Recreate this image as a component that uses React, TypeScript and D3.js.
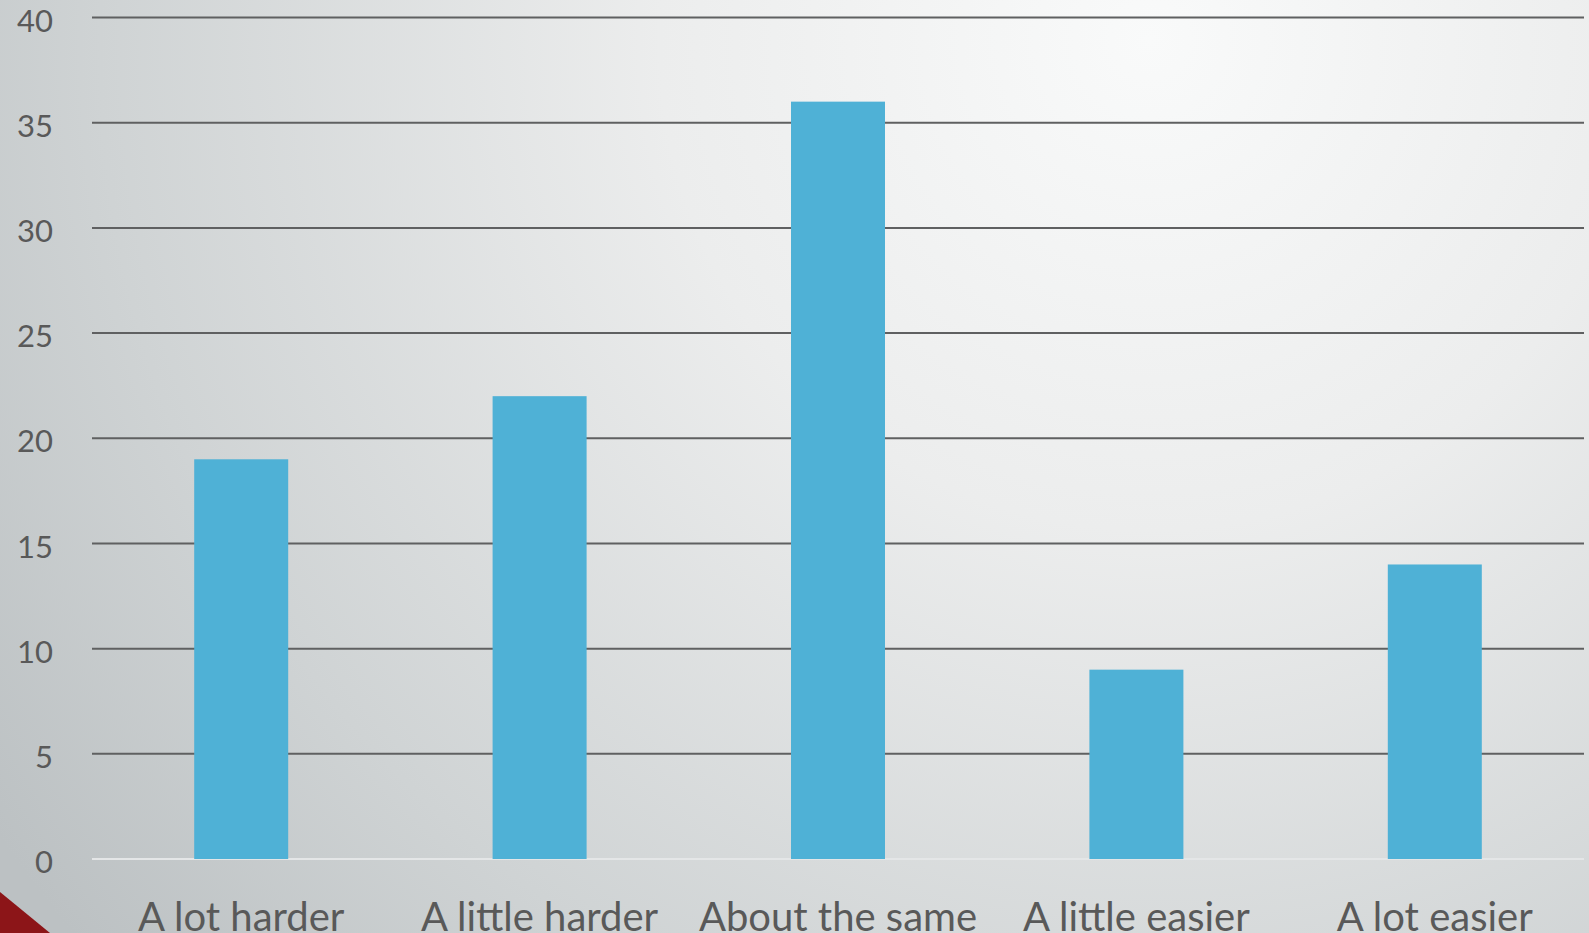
import React from "react";
import * as d3 from "d3";

const categories = ["A lot harder", "A little harder", "About the same", "A little easier", "A lot easier"];
const values = [19, 22, 36, 9, 14];
const yTicks = [0, 5, 10, 15, 20, 25, 30, 35, 40];

const W = 1589;
const H = 933;
const left = 92;
const right = 1584;
const top = 17.5;
const bottom = 859;

export default function App() {
  const x = d3.scaleBand<string>().domain(categories).range([left, right]).paddingInner(0.685).paddingOuter(0.3425);
  const y = d3.scaleLinear().domain([0, 40]).range([bottom, top]);
  const font = "Lato, 'Open Sans', sans-serif";
  return (
    <svg width={W} height={H} style={{ position: "absolute", left: 0, top: 0 }}>
      <defs>
        <radialGradient id="bg" cx="1150" cy="40" r="1400" gradientUnits="userSpaceOnUse">
          <stop offset="0" stopColor="#f9fafa" />
          <stop offset="0.35" stopColor="#eceded" />
          <stop offset="0.75" stopColor="#cfd3d4" />
          <stop offset="1" stopColor="#bcc1c3" />
        </radialGradient>
      </defs>
      <rect x={0} y={0} width={W} height={H} fill="url(#bg)" />
      {yTicks.map((t) => (
        <g key={t}>
          <line x1={left} x2={right} y1={y(t)} y2={y(t)} stroke={t === 0 ? "#e4e6e7" : "#5f6061"} strokeWidth={2} />
          <text x={53} y={y(t) + 3} dy="0.36em" textAnchor="end" fontFamily={font} fontSize={31} fill="#595959">
            {t}
          </text>
        </g>
      ))}
      {categories.map((c, i) => (
        <rect key={c} x={x(c)} y={y(values[i])} width={x.bandwidth()} height={y(0) - y(values[i])} fill="#4fb1d6" />
      ))}
      {categories.map((c) => (
        <text key={c} x={(x(c) as number) + x.bandwidth() / 2} y={931} textAnchor="middle" fontFamily={font} fontSize={40} fill="#595959">
          {c}
        </text>
      ))}
      <polygon points={`0,892 50,${H} 0,${H}`} fill="#8c1518" />
    </svg>
  );
}
